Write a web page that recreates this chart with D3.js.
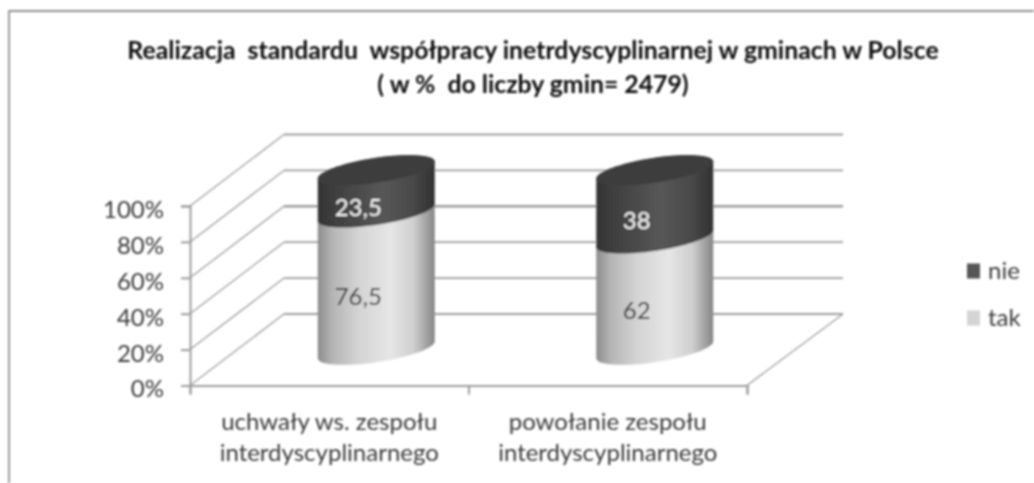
<!DOCTYPE html>
<html>
<head>
<meta charset="utf-8">
<script src="https://cdn.jsdelivr.net/npm/d3@7"></script>
<style>
    html, body { margin: 0; padding: 0; background: #fff; }
    svg { display: block; }
    text { font-family: Lato, "Open Sans", sans-serif; white-space: pre; }
</style>
</head>
<body>
<script>
//Chart data

const titleLines = ["Realizacja  standardu  współpracy inetrdyscyplinarnej w gminach w Polsce", "( w %  do liczby gmin= 2479)"];
const categories = [["uchwały ws. zespołu", "interdyscyplinarnego"], ["powołanie zespołu", "interdyscyplinarnego"]];
const seriesNames = ["tak", "nie"];
const tak = [76.5, 62];
const nie = [23.5, 38];
const valueLabels = { tak: ["76,5", "62"], nie: ["23,5", "38"] };
const yTicks = [0, 20, 40, 60, 80, 100];

//Initializing the svg

const width = 1034, height = 483;

const svg = d3.select("body").append("svg")
    .attr("width", width)
    .attr("height", height);

const defs = svg.append("defs");

// the original is a soft, upscaled picture
defs.append("filter")
    .attr("id", "soft")
    .attr("filterUnits", "userSpaceOnUse")
    .attr("x", 0).attr("y", 0)
    .attr("width", width).attr("height", height)
    .append("feGaussianBlur")
    .attr("stdDeviation", 0.85);

function addGradient(id, stops) {
    defs.append("linearGradient")
        .attr("id", id)
        .selectAll("stop")
        .data(stops)
        .enter().append("stop")
        .attr("offset", d => d[0])
        .attr("stop-color", d => d[1]);
}
addGradient("grad-tak", [[0, "#8c8c8c"], [0.12, "#b4b4b4"], [0.35, "#d4d4d4"], [0.62, "#e6e6e6"], [0.82, "#cfcfcf"], [1, "#858585"]]);
addGradient("grad-nie", [[0, "#333333"], [0.15, "#3f3f3f"], [0.55, "#575757"], [0.8, "#4a4a4a"], [1, "#313131"]]);

const chart = svg.append("g").attr("filter", "url(#soft)");

//Frame, only top and left side are visible

chart.append("path")
    .attr("d", "M9,483V11H1034")
    .attr("fill", "none")
    .attr("stroke", "#909090")
    .attr("stroke-width", 1.8);

//Scales

const x = d3.scaleLinear().domain([0, categories.length]).range([190, 747]);
const y = d3.scaleLinear().domain([0, 100]).range([385.5, 206]);
const depthX = 94, depthY = -71.5;
const axisColor = "#9c9c9c";

//Walls: lines on the back wall and the diagonals on the side wall

const walls = chart.append("g")
    .attr("fill", "none")
    .attr("stroke", axisColor);

walls.selectAll(".back")
    .data(yTicks)
    .enter().append("line")
    .attr("class", "back")
    .attr("x1", x(0) + depthX)
    .attr("x2", x(categories.length) + depthX + 2)
    .attr("y1", d => y(d) + depthY)
    .attr("y2", d => y(d) + depthY)
    .attr("stroke-width", d => d == 60 ? 2.4 : 1.8);

walls.selectAll(".side")
    .data(yTicks)
    .enter().append("line")
    .attr("class", "side")
    .attr("x1", x(0))
    .attr("x2", x(0) + depthX)
    .attr("y1", d => y(d))
    .attr("y2", d => y(d) + depthY)
    .attr("stroke-width", 1.3);

walls.append("line")
    .attr("x1", x(categories.length))
    .attr("x2", x(categories.length) + depthX + 2)
    .attr("y1", y(0))
    .attr("y2", y(0) + depthY)
    .attr("stroke-width", 1.3);

//Axes

const yAxis = d3.axisLeft(y)
    .tickValues(yTicks)
    .tickSize(9)
    .tickPadding(17)
    .tickFormat(d => d + "%");

const xAxis = d3.axisBottom(x)
    .tickValues(d3.range(categories.length + 1))
    .tickSize(9)
    .tickFormat("");

const gy = chart.append("g").attr("transform", `translate(${x(0)},0)`).call(yAxis);
const gx = chart.append("g").attr("transform", `translate(0,${y(0)})`).call(xAxis);

[gy, gx].forEach(g => {
    g.select(".domain").attr("stroke", axisColor).attr("stroke-width", 2);
    g.selectAll(".tick line").attr("stroke", axisColor).attr("stroke-width", 2);
});

gy.selectAll(".tick text")
    .attr("dy", "0.35em")
    .attr("y", 3)
    .style("font-size", "24px")
    .style("font-family", "Lato")
    .attr("fill", "#3a3a3a");

//Cylinders

const rx = (x(1) - x(0)) * 0.21;
const ry = 12.5, skew = 8.5;
const halfTurn = d3.range(0, 1.0001, 1 / 40).map(d => d * Math.PI);

// point on the slanted ellipse of the cylinder
function rim(cx, cy, t) {
    return [cx + rx * Math.cos(t), cy + ry * Math.sin(t) - skew * Math.cos(t)];
}

const outline = d3.line().curve(d3.curveLinear);

function sidePath(cx, bottom, top) {
    const lower = halfTurn.map(t => rim(cx, bottom, t));
    const upper = halfTurn.map(t => rim(cx, top, t + Math.PI));
    return outline(lower.concat(upper)) + "Z";
}

function capPath(cx, cy) {
    const all = halfTurn.concat(halfTurn.map(t => t + Math.PI));
    return outline(all.map(t => rim(cx, cy, t))) + "Z";
}

const baseY = y(0) + depthY / 2;
const rows = categories.map((c, i) => ({
    cx: x(i + 0.5) + depthX / 2,
    tak: tak[i],
    nie: nie[i],
    takLabel: valueLabels.tak[i],
    nieLabel: valueLabels.nie[i]
}));
const h = v => y(0) - y(v);

const bars = chart.selectAll(".bar")
    .data(rows)
    .enter().append("g")
    .attr("class", "bar");

bars.append("path")
    .attr("d", d => sidePath(d.cx, baseY, baseY - h(d.tak)))
    .attr("fill", "url(#grad-tak)");

bars.append("path")
    .attr("d", d => sidePath(d.cx, baseY - h(d.tak), baseY - h(d.tak + d.nie)))
    .attr("fill", "url(#grad-nie)");

bars.append("path")
    .attr("d", d => capPath(d.cx, baseY - h(d.tak + d.nie)))
    .attr("fill", "#3e3e3e");

const labelShift = 18, labelDrop = 16;

bars.append("text")
    .attr("x", d => d.cx - labelShift)
    .attr("y", d => baseY - h(d.tak / 2) + labelDrop)
    .attr("dy", "0.35em")
    .attr("text-anchor", "middle")
    .attr("font-size", 24)
    .attr("fill", "#2e2e2e")
    .text(d => d.takLabel);

bars.append("text")
    .attr("x", d => d.cx - labelShift)
    .attr("y", d => baseY - h(d.tak + d.nie / 2) + labelDrop)
    .attr("dy", "0.35em")
    .attr("text-anchor", "middle")
    .attr("font-size", 24)
    .attr("fill", "#f6f6f6")
    .text(d => d.nieLabel);

//Category labels

categories.forEach((lines, i) => {
    chart.selectAll(null)
        .data(lines)
        .enter().append("text")
        .attr("x", x(i + 0.5))
        .attr("y", (d, k) => 430 + k * 31)
        .attr("text-anchor", "middle")
        .attr("font-size", 24)
        .attr("fill", "#3a3a3a")
        .text(d => d);
});

//Title

chart.selectAll(".title")
    .data(titleLines)
    .enter().append("text")
    .attr("class", "title")
    .attr("x", 533)
    .attr("y", (d, i) => 59 + i * 34)
    .attr("text-anchor", "middle")
    .attr("font-size", 24.8)
    .attr("font-weight", "bold")
    .attr("fill", "#0d0d0d")
    .text(d => d);

//Legend

const legendRows = [
    { name: seriesNames[1], color: "#555555", y: 271 },
    { name: seriesNames[0], color: "#d4d4d4", y: 318 }
];

const legend = chart.selectAll(".legend")
    .data(legendRows)
    .enter().append("g")
    .attr("class", "legend")
    .attr("transform", d => `translate(967,${d.y})`);

legend.append("rect")
    .attr("y", -7.5)
    .attr("width", 13)
    .attr("height", 15)
    .attr("fill", d => d.color);

legend.append("text")
    .attr("x", 21)
    .attr("dy", "0.32em")
    .attr("font-size", 24)
    .attr("fill", "#3a3a3a")
    .text(d => d.name);
</script>
</body>
</html>
